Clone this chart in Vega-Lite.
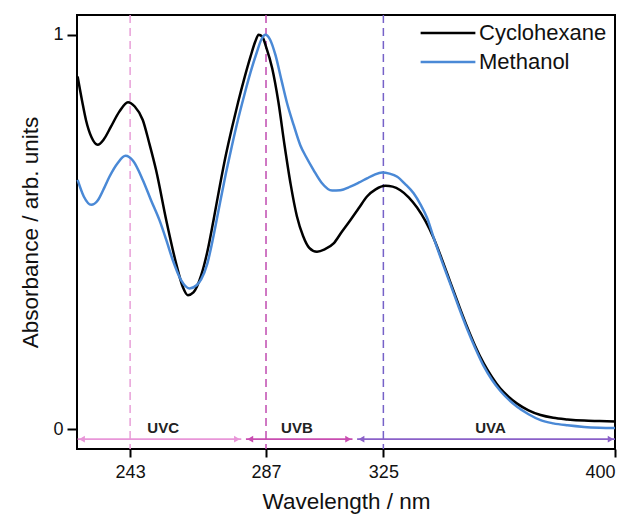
{
  "$schema": "https://vega.github.io/schema/vega-lite/v6.json",
  "autosize": {"type": "none"},
  "width": 538,
  "height": 434,
  "padding": {"left": 77, "top": 15, "right": 16, "bottom": 65},
  "config": {
    "view": {"stroke": "#000000", "strokeWidth": 2},
    "font": "Liberation Sans",
    "axis": {"domain": false, "grid": false, "tickColor": "#000000", "tickWidth": 2, "labelColor": "#111111", "titleColor": "#111111", "titleFontWeight": "normal", "labelFont": "Liberation Sans", "titleFont": "Liberation Sans"}
  },
  "datasets": {
    "curves": [
      {"s": "Cyclohexane", "w": 226, "a": 0.894},
      {"s": "Cyclohexane", "w": 227.5, "a": 0.83},
      {"s": "Cyclohexane", "w": 228.7, "a": 0.784},
      {"s": "Cyclohexane", "w": 230.5, "a": 0.740},
      {"s": "Cyclohexane", "w": 232.5, "a": 0.721},
      {"s": "Cyclohexane", "w": 234.5, "a": 0.735},
      {"s": "Cyclohexane", "w": 236.8, "a": 0.767},
      {"s": "Cyclohexane", "w": 239.5, "a": 0.805},
      {"s": "Cyclohexane", "w": 242.3, "a": 0.829},
      {"s": "Cyclohexane", "w": 244.5, "a": 0.818},
      {"s": "Cyclohexane", "w": 247.1, "a": 0.784},
      {"s": "Cyclohexane", "w": 249.2, "a": 0.725},
      {"s": "Cyclohexane", "w": 251.4, "a": 0.657},
      {"s": "Cyclohexane", "w": 254.7, "a": 0.530},
      {"s": "Cyclohexane", "w": 257.9, "a": 0.420},
      {"s": "Cyclohexane", "w": 260.0, "a": 0.362},
      {"s": "Cyclohexane", "w": 261.7, "a": 0.340},
      {"s": "Cyclohexane", "w": 263.5, "a": 0.347},
      {"s": "Cyclohexane", "w": 266.0, "a": 0.39},
      {"s": "Cyclohexane", "w": 268.0, "a": 0.45},
      {"s": "Cyclohexane", "w": 270.0, "a": 0.53},
      {"s": "Cyclohexane", "w": 272.0, "a": 0.615},
      {"s": "Cyclohexane", "w": 274.0, "a": 0.695},
      {"s": "Cyclohexane", "w": 276.0, "a": 0.765},
      {"s": "Cyclohexane", "w": 278.0, "a": 0.83},
      {"s": "Cyclohexane", "w": 280.0, "a": 0.89},
      {"s": "Cyclohexane", "w": 282.0, "a": 0.945},
      {"s": "Cyclohexane", "w": 283.5, "a": 0.982},
      {"s": "Cyclohexane", "w": 284.6, "a": 1.0},
      {"s": "Cyclohexane", "w": 285.8, "a": 0.995},
      {"s": "Cyclohexane", "w": 287.0, "a": 0.97},
      {"s": "Cyclohexane", "w": 289.0, "a": 0.915},
      {"s": "Cyclohexane", "w": 291.0, "a": 0.83},
      {"s": "Cyclohexane", "w": 293.0, "a": 0.72},
      {"s": "Cyclohexane", "w": 295.0, "a": 0.62},
      {"s": "Cyclohexane", "w": 297.0, "a": 0.54},
      {"s": "Cyclohexane", "w": 299.0, "a": 0.49},
      {"s": "Cyclohexane", "w": 301.0, "a": 0.46},
      {"s": "Cyclohexane", "w": 303.5, "a": 0.45},
      {"s": "Cyclohexane", "w": 306.0, "a": 0.456},
      {"s": "Cyclohexane", "w": 308.9, "a": 0.471},
      {"s": "Cyclohexane", "w": 311.5, "a": 0.50},
      {"s": "Cyclohexane", "w": 314.3, "a": 0.530},
      {"s": "Cyclohexane", "w": 317.0, "a": 0.56},
      {"s": "Cyclohexane", "w": 319.7, "a": 0.590},
      {"s": "Cyclohexane", "w": 322.5, "a": 0.608},
      {"s": "Cyclohexane", "w": 325.7, "a": 0.617},
      {"s": "Cyclohexane", "w": 328.0, "a": 0.615},
      {"s": "Cyclohexane", "w": 330.5, "a": 0.606},
      {"s": "Cyclohexane", "w": 333.2, "a": 0.588},
      {"s": "Cyclohexane", "w": 335.9, "a": 0.562},
      {"s": "Cyclohexane", "w": 338.6, "a": 0.528},
      {"s": "Cyclohexane", "w": 341.3, "a": 0.484},
      {"s": "Cyclohexane", "w": 344.0, "a": 0.43},
      {"s": "Cyclohexane", "w": 346.7, "a": 0.372},
      {"s": "Cyclohexane", "w": 349.4, "a": 0.315},
      {"s": "Cyclohexane", "w": 352.1, "a": 0.26},
      {"s": "Cyclohexane", "w": 354.8, "a": 0.21},
      {"s": "Cyclohexane", "w": 357.5, "a": 0.167},
      {"s": "Cyclohexane", "w": 360.2, "a": 0.132},
      {"s": "Cyclohexane", "w": 362.9, "a": 0.103},
      {"s": "Cyclohexane", "w": 365.6, "a": 0.082},
      {"s": "Cyclohexane", "w": 368.3, "a": 0.065},
      {"s": "Cyclohexane", "w": 372.0, "a": 0.048},
      {"s": "Cyclohexane", "w": 375.9, "a": 0.036},
      {"s": "Cyclohexane", "w": 380.0, "a": 0.029},
      {"s": "Cyclohexane", "w": 384.6, "a": 0.025},
      {"s": "Cyclohexane", "w": 390.0, "a": 0.022},
      {"s": "Cyclohexane", "w": 395.0, "a": 0.021},
      {"s": "Cyclohexane", "w": 400.0, "a": 0.020},
      {"s": "Methanol", "w": 226, "a": 0.632},
      {"s": "Methanol", "w": 228, "a": 0.59},
      {"s": "Methanol", "w": 230.4, "a": 0.569},
      {"s": "Methanol", "w": 232.5, "a": 0.58},
      {"s": "Methanol", "w": 234.5, "a": 0.61},
      {"s": "Methanol", "w": 236.3, "a": 0.640},
      {"s": "Methanol", "w": 239.0, "a": 0.675},
      {"s": "Methanol", "w": 241.5, "a": 0.693},
      {"s": "Methanol", "w": 244.0, "a": 0.68},
      {"s": "Methanol", "w": 247.1, "a": 0.632},
      {"s": "Methanol", "w": 249.8, "a": 0.58},
      {"s": "Methanol", "w": 252.5, "a": 0.530},
      {"s": "Methanol", "w": 254.7, "a": 0.48},
      {"s": "Methanol", "w": 256.8, "a": 0.429},
      {"s": "Methanol", "w": 259.5, "a": 0.378},
      {"s": "Methanol", "w": 262.2, "a": 0.357},
      {"s": "Methanol", "w": 264.5, "a": 0.365},
      {"s": "Methanol", "w": 266.0, "a": 0.38},
      {"s": "Methanol", "w": 268.0, "a": 0.42},
      {"s": "Methanol", "w": 270.0, "a": 0.49},
      {"s": "Methanol", "w": 272.0, "a": 0.57},
      {"s": "Methanol", "w": 274.0, "a": 0.648},
      {"s": "Methanol", "w": 276.0, "a": 0.72},
      {"s": "Methanol", "w": 278.0, "a": 0.787},
      {"s": "Methanol", "w": 280.0, "a": 0.848},
      {"s": "Methanol", "w": 282.0, "a": 0.905},
      {"s": "Methanol", "w": 284.0, "a": 0.955},
      {"s": "Methanol", "w": 285.5, "a": 0.988},
      {"s": "Methanol", "w": 286.8, "a": 1.0},
      {"s": "Methanol", "w": 288.3, "a": 0.988},
      {"s": "Methanol", "w": 290.0, "a": 0.95},
      {"s": "Methanol", "w": 292.0, "a": 0.885},
      {"s": "Methanol", "w": 293.8, "a": 0.827},
      {"s": "Methanol", "w": 296.0, "a": 0.77},
      {"s": "Methanol", "w": 298.1, "a": 0.72},
      {"s": "Methanol", "w": 300.0, "a": 0.69},
      {"s": "Methanol", "w": 302.4, "a": 0.657},
      {"s": "Methanol", "w": 305.0, "a": 0.625},
      {"s": "Methanol", "w": 308.4, "a": 0.605},
      {"s": "Methanol", "w": 311.0, "a": 0.606},
      {"s": "Methanol", "w": 314.3, "a": 0.615},
      {"s": "Methanol", "w": 317.0, "a": 0.625},
      {"s": "Methanol", "w": 319.7, "a": 0.636},
      {"s": "Methanol", "w": 322.0, "a": 0.645},
      {"s": "Methanol", "w": 324.6, "a": 0.651},
      {"s": "Methanol", "w": 327.0, "a": 0.648},
      {"s": "Methanol", "w": 329.5, "a": 0.640},
      {"s": "Methanol", "w": 332.0, "a": 0.622},
      {"s": "Methanol", "w": 334.8, "a": 0.598},
      {"s": "Methanol", "w": 337.0, "a": 0.57},
      {"s": "Methanol", "w": 339.2, "a": 0.535},
      {"s": "Methanol", "w": 341.3, "a": 0.485},
      {"s": "Methanol", "w": 344.0, "a": 0.425},
      {"s": "Methanol", "w": 346.7, "a": 0.368},
      {"s": "Methanol", "w": 349.4, "a": 0.31},
      {"s": "Methanol", "w": 352.1, "a": 0.255},
      {"s": "Methanol", "w": 354.8, "a": 0.205},
      {"s": "Methanol", "w": 357.5, "a": 0.16},
      {"s": "Methanol", "w": 360.2, "a": 0.125},
      {"s": "Methanol", "w": 362.9, "a": 0.097},
      {"s": "Methanol", "w": 365.6, "a": 0.075},
      {"s": "Methanol", "w": 368.3, "a": 0.057},
      {"s": "Methanol", "w": 372.0, "a": 0.038},
      {"s": "Methanol", "w": 375.9, "a": 0.023},
      {"s": "Methanol", "w": 380.0, "a": 0.015},
      {"s": "Methanol", "w": 384.6, "a": 0.010},
      {"s": "Methanol", "w": 390.0, "a": 0.006},
      {"s": "Methanol", "w": 395.0, "a": 0.004},
      {"s": "Methanol", "w": 400.0, "a": 0.003}
    ],
    "vlines": [
      {"w": 243, "c": "#e8a0d8"},
      {"w": 287, "c": "#c04cb0"},
      {"w": 325, "c": "#7662c8"}
    ],
    "bands": [
      {"band": "UVC", "w1": 226, "w2": 279, "mid": 253.7, "c": "#e896d8"},
      {"band": "UVB", "w1": 280.5, "w2": 315, "mid": 297, "c": "#c84cb0"},
      {"band": "UVA", "w1": 316.5, "w2": 400, "mid": 359.7, "c": "#8a60c8"}
    ],
    "heads": [
      {"w": 227.4, "side": "L", "c": "#e896d8"},
      {"w": 277.6, "side": "R", "c": "#e896d8"},
      {"w": 281.9, "side": "L", "c": "#c84cb0"},
      {"w": 313.6, "side": "R", "c": "#c84cb0"},
      {"w": 317.9, "side": "L", "c": "#8a60c8"},
      {"w": 398.6, "side": "R", "c": "#8a60c8"}
    ]
  },
  "layer": [
    {
      "data": {"name": "vlines"},
      "mark": {"type": "rule", "strokeDash": [8, 5], "strokeWidth": 1.5},
      "encoding": {
        "x": {"field": "w", "type": "quantitative", "scale": {"domain": [225.8, 400], "nice": false, "zero": false},
          "axis": {"values": [243, 287, 325, 400], "tickSize": 8, "labelFontSize": 18, "labelPadding": 6, "title": "Wavelength / nm", "titleFontSize": 22.5, "titlePadding": 9}},
        "color": {"field": "c", "type": "nominal", "scale": null}
      }
    },
    {
      "data": {"name": "bands"},
      "mark": {"type": "rule", "strokeWidth": 1.6},
      "encoding": {
        "x": {"field": "w1", "type": "quantitative"},
        "x2": {"field": "w2"},
        "y": {"datum": -0.025, "type": "quantitative"},
        "color": {"field": "c", "type": "nominal", "scale": null}
      }
    },
    {
      "data": {"name": "heads"},
      "transform": [{"filter": "datum.side == 'L'"}],
      "mark": {"type": "point", "shape": "triangle-left", "filled": true, "size": 45, "opacity": 1},
      "encoding": {
        "x": {"field": "w", "type": "quantitative"},
        "y": {"datum": -0.025, "type": "quantitative"},
        "color": {"field": "c", "type": "nominal", "scale": null}
      }
    },
    {
      "data": {"name": "heads"},
      "transform": [{"filter": "datum.side == 'R'"}],
      "mark": {"type": "point", "shape": "triangle-right", "filled": true, "size": 45, "opacity": 1},
      "encoding": {
        "x": {"field": "w", "type": "quantitative"},
        "y": {"datum": -0.025, "type": "quantitative"},
        "color": {"field": "c", "type": "nominal", "scale": null}
      }
    },
    {
      "data": {"name": "bands"},
      "mark": {"type": "text", "fontWeight": "bold", "fontSize": 15, "color": "#222222", "baseline": "middle", "align": "center"},
      "encoding": {
        "x": {"field": "mid", "type": "quantitative"},
        "y": {"datum": 0.003, "type": "quantitative"},
        "text": {"field": "band"}
      }
    },
    {
      "data": {"name": "curves"},
      "mark": {"type": "line", "strokeWidth": 2.5, "interpolate": "monotone"},
      "encoding": {
        "x": {"field": "w", "type": "quantitative"},
        "y": {"field": "a", "type": "quantitative", "scale": {"domain": [-0.05, 1.05], "nice": false, "zero": false},
          "axis": {"values": [0, 1], "format": "d", "tickSize": 10, "labelFontSize": 18, "labelPadding": 4, "title": "Absorbance / arb. units", "titleFontSize": 22.5, "titlePadding": 10}},
        "color": {"field": "s", "type": "nominal", "scale": {"domain": ["Cyclohexane", "Methanol"], "range": ["#000000", "#4a89d6"]},
          "legend": {"title": null, "orient": "none", "legendX": 360, "legendY": 7, "symbolType": "M-3,0H3", "symbolSize": 333, "symbolStrokeWidth": 2.5, "symbolFillColor": "transparent", "labelFontSize": 22, "labelOffset": 20, "rowPadding": 7, "padding": 0, "labelColor": "#111111", "labelFont": "Liberation Sans"}}
      }
    }
  ]
}
